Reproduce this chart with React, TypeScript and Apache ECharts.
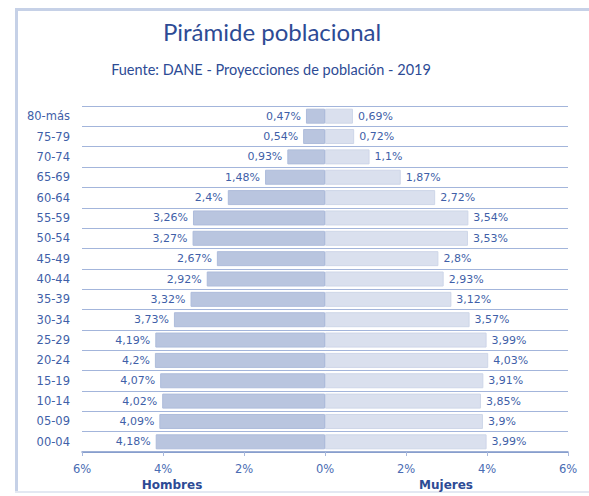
import React, { useEffect, useRef } from "react";
import * as echarts from "echarts";

const ages = ["00-04", "05-09", "10-14", "15-19", "20-24", "25-29", "30-34", "35-39", "40-44", "45-49", "50-54", "55-59", "60-64", "65-69", "70-74", "75-79", "80-más"];
const hombres = [4.18, 4.09, 4.02, 4.07, 4.2, 4.19, 3.73, 3.32, 2.92, 2.67, 3.27, 3.26, 2.4, 1.48, 0.93, 0.54, 0.47];
const mujeres = [3.99, 3.9, 3.85, 3.91, 4.03, 3.99, 3.57, 3.12, 2.93, 2.8, 3.53, 3.54, 2.72, 1.87, 1.1, 0.72, 0.69];
const titleText = "Pirámide poblacional";
const subtitleText = "Fuente: DANE - Proyecciones de población - 2019";

const fmt = (v: number) => String(Math.abs(v)).replace(".", ",") + "%";

export default function App() {
  const ref = useRef<HTMLDivElement>(null);
  useEffect(() => {
    if (!ref.current) return;
    const chart = echarts.init(ref.current, null, { renderer: "svg" });
    const labelColor = "#3f5fa8";
    chart.setOption({
      animation: false,
      backgroundColor: "#ffffff",
      title: [
        {
          text: titleText,
          left: 267,
          top: 14,
          textAlign: "center",
          textStyle: { fontFamily: "Lato", fontWeight: 400, fontSize: 24, color: "#2d4b95" },
        },
        {
          text: subtitleText,
          left: 266,
          top: 57,
          textAlign: "center",
          textStyle: { fontFamily: "Lato", fontWeight: 400, fontSize: 14.5, color: "#2d4b95" },
        },
      ],
      graphic: [
        { type: "rect", shape: { x: 15, y: 8, width: 3, height: 485 }, style: { fill: "#c6d1e7" } },
        { type: "rect", shape: { x: 15, y: 8, width: 574, height: 3 }, style: { fill: "#c6d1e7" } },
        { type: "rect", shape: { x: 15, y: 491, width: 574, height: 2 }, style: { fill: "#e3e8f2" } },
        {
          type: "text",
          x: 172,
          y: 485,
          style: { text: "Hombres", fill: "#2d4b95", font: "bold 12px 'DejaVu Sans'", textAlign: "center", textVerticalAlign: "middle" },
        },
        {
          type: "text",
          x: 446,
          y: 485,
          style: { text: "Mujeres", fill: "#2d4b95", font: "bold 12px 'DejaVu Sans'", textAlign: "center", textVerticalAlign: "middle" },
        },
      ],
      grid: { left: 82, right: 21, top: 106, bottom: 44, containLabel: false },
      xAxis: {
        type: "value",
        min: -6,
        max: 6,
        interval: 2,
        axisLine: { show: true, lineStyle: { color: "#7f97c9", width: 1.5 } },
        axisTick: { show: true, length: 4, lineStyle: { color: "#a8b8dc" } },
        splitLine: { show: false },
        axisLabel: {
          formatter: (v: number) => Math.abs(v) + "%",
          color: "#4a6cb3",
          fontFamily: "DejaVu Sans",
          fontSize: 11.5,
          margin: 11,
        },
      },
      yAxis: {
        type: "category",
        data: ages,
        axisLine: { show: false },
        axisTick: { show: false },
        splitLine: { show: true, lineStyle: { color: "#a3b5db", width: 1 } },
        axisLabel: { color: labelColor, fontFamily: "DejaVu Sans", fontSize: 11.5, margin: 12 },
      },
      series: [
        {
          name: "Hombres",
          type: "bar",
          data: hombres.map((v) => -v),
          barWidth: 15,
          barGap: "-100%",
          itemStyle: { color: "#b9c5df", borderColor: "#aebcdb", borderWidth: 1 },
          label: {
            show: true,
            position: "left",
            distance: 5,
            formatter: (p: any) => fmt(p.value),
            color: labelColor,
            fontFamily: "DejaVu Sans",
            fontSize: 11,
          },
        },
        {
          name: "Mujeres",
          type: "bar",
          data: mujeres,
          barWidth: 15,
          barGap: "-100%",
          itemStyle: { color: "#dae0ee", borderColor: "#ced6e8", borderWidth: 1 },
          label: {
            show: true,
            position: "right",
            distance: 5,
            formatter: (p: any) => fmt(p.value),
            color: labelColor,
            fontFamily: "DejaVu Sans",
            fontSize: 11,
          },
        },
      ],
    });
    return () => chart.dispose();
  }, []);
  return (
    <div
      ref={ref}
      style={{ position: "fixed", left: 0, top: 0, width: 589, height: 496 }}
    />
  );
}
